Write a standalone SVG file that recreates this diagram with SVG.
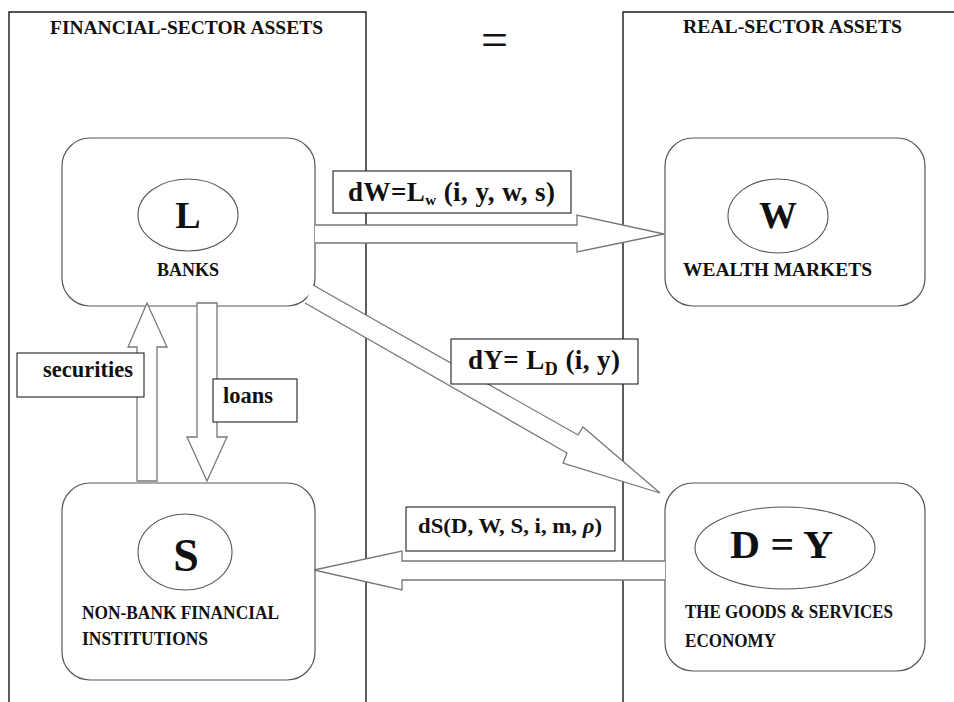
<svg xmlns="http://www.w3.org/2000/svg" width="954" height="702" viewBox="0 0 954 702">
<defs>
<style>
.panel{fill:none;stroke:#1a1a1a;stroke-width:1.4}
.node{fill:#fff;stroke:#555;stroke-width:1.2}
.ell{fill:#fff;stroke:#555;stroke-width:1.1}
.arrow{fill:#fff;stroke:#777;stroke-width:1.3;stroke-linejoin:miter}
.lbox{fill:#fff;stroke:#222;stroke-width:1.1}
text{font-family:"Liberation Serif","Times New Roman",serif;font-weight:bold;fill:#111}
.head{font-size:18.5px}
.cap{font-size:18px}
.big{font-size:40px;text-anchor:middle}
.f{font-size:27px}
.s{font-size:23px}
</style>
</defs>
<rect width="954" height="702" fill="#fff"/>
<g id="panels">
<path class="panel" d="M9,702 V12 H366 V702"/>
<path class="panel" d="M623,702 V12 H956"/>
<text class="head" x="50" y="34" textLength="273" lengthAdjust="spacingAndGlyphs">FINANCIAL-SECTOR ASSETS</text>
<text class="head" x="683" y="33" textLength="219" lengthAdjust="spacingAndGlyphs">REAL-SECTOR ASSETS</text>
<text x="494.5" y="56" style="font-size:48px;font-weight:normal;text-anchor:middle">=</text>
</g>
<g id="banks">
<rect class="node" x="62" y="138" width="253" height="168" rx="28"/>
<ellipse class="ell" cx="188" cy="215" rx="50" ry="36"/>
<text class="big" x="188" y="228" style="font-size:38px">L</text>
<text class="cap" x="188" y="276" text-anchor="middle">BANKS</text>
</g>
<g id="wealth">
<rect class="node" x="665" y="138" width="260" height="168" rx="28"/>
<ellipse class="ell" cx="778" cy="216" rx="50" ry="37"/>
<text class="big" x="778" y="228" style="font-size:38px">W</text>
<text class="cap" x="683" y="276" textLength="189" lengthAdjust="spacingAndGlyphs">WEALTH MARKETS</text>
</g>
<g id="nonbank">
<rect class="node" x="62" y="483" width="253" height="197" rx="28"/>
<ellipse class="ell" cx="185" cy="552" rx="47" ry="38"/>
<text class="big" x="186" y="571" style="font-size:46px">S</text>
<text class="cap" x="82" y="619" textLength="197" lengthAdjust="spacingAndGlyphs">NON-BANK FINANCIAL</text>
<text class="cap" x="82" y="645" textLength="126" lengthAdjust="spacingAndGlyphs">INSTITUTIONS</text>
</g>
<g id="goods">
<rect class="node" x="665" y="483" width="260" height="188" rx="28"/>
<ellipse class="ell" cx="785" cy="548" rx="90" ry="41"/>
<text class="big" x="781.5" y="558" textLength="103" lengthAdjust="spacingAndGlyphs">D = Y</text>
<text class="cap" x="685" y="618" textLength="208" lengthAdjust="spacingAndGlyphs">THE GOODS &amp; SERVICES</text>
<text class="cap" x="685" y="647" textLength="91" lengthAdjust="spacingAndGlyphs">ECONOMY</text>
</g>
<g id="connectors">
<path class="arrow" d="M315,225 H577 V215 L664,234 L577,252 V243 H315"/>
<path class="arrow" d="M313,285 L578,435 L583,427 L660,493 L563,463 L567,453 L305,303"/>
<path class="arrow" d="M665,561 H402 V551 L314,570 L402,590 V580 H665"/>
<path class="arrow" d="M137,481 V347 H128 L147,303 L167,347 H157 V481 Z"/>
<path class="arrow" d="M197,303 V437 H187 L207,481 L227,437 H217 V303 Z"/>
</g>
<g id="labels">
<g id="label-dW">
<rect class="lbox" x="333" y="171" width="238" height="42"/>
<text class="f" x="348" y="201" textLength="207" lengthAdjust="spacing">dW=L<tspan dy="4" style="font-size:15px">w</tspan><tspan dy="-4"> (i, y, w, s)</tspan></text>
</g>
<g id="label-dY">
<rect class="lbox" x="451" y="339" width="187" height="45"/>
<text class="f" x="468" y="369" textLength="152" lengthAdjust="spacing">dY= L<tspan dy="6" style="font-size:18px">D</tspan><tspan dy="-6"> (i, y)</tspan></text>
</g>
<g id="label-dS">
<rect class="lbox" x="406" y="507" width="209" height="44"/>
<text x="418" y="533" style="font-size:21px" textLength="184" lengthAdjust="spacingAndGlyphs">dS(D, W, S, i, m, <tspan style="font-style:italic">ρ</tspan>)</text>
</g>
<g id="label-securities">
<rect class="lbox" x="17" y="353" width="127" height="44"/>
<text class="s" x="43" y="377" textLength="90" lengthAdjust="spacingAndGlyphs">securities</text>
</g>
<g id="label-loans">
<rect class="lbox" x="213" y="379" width="84" height="43"/>
<text class="s" x="223" y="403" textLength="50" lengthAdjust="spacingAndGlyphs">loans</text>
</g>
</g>
</svg>
